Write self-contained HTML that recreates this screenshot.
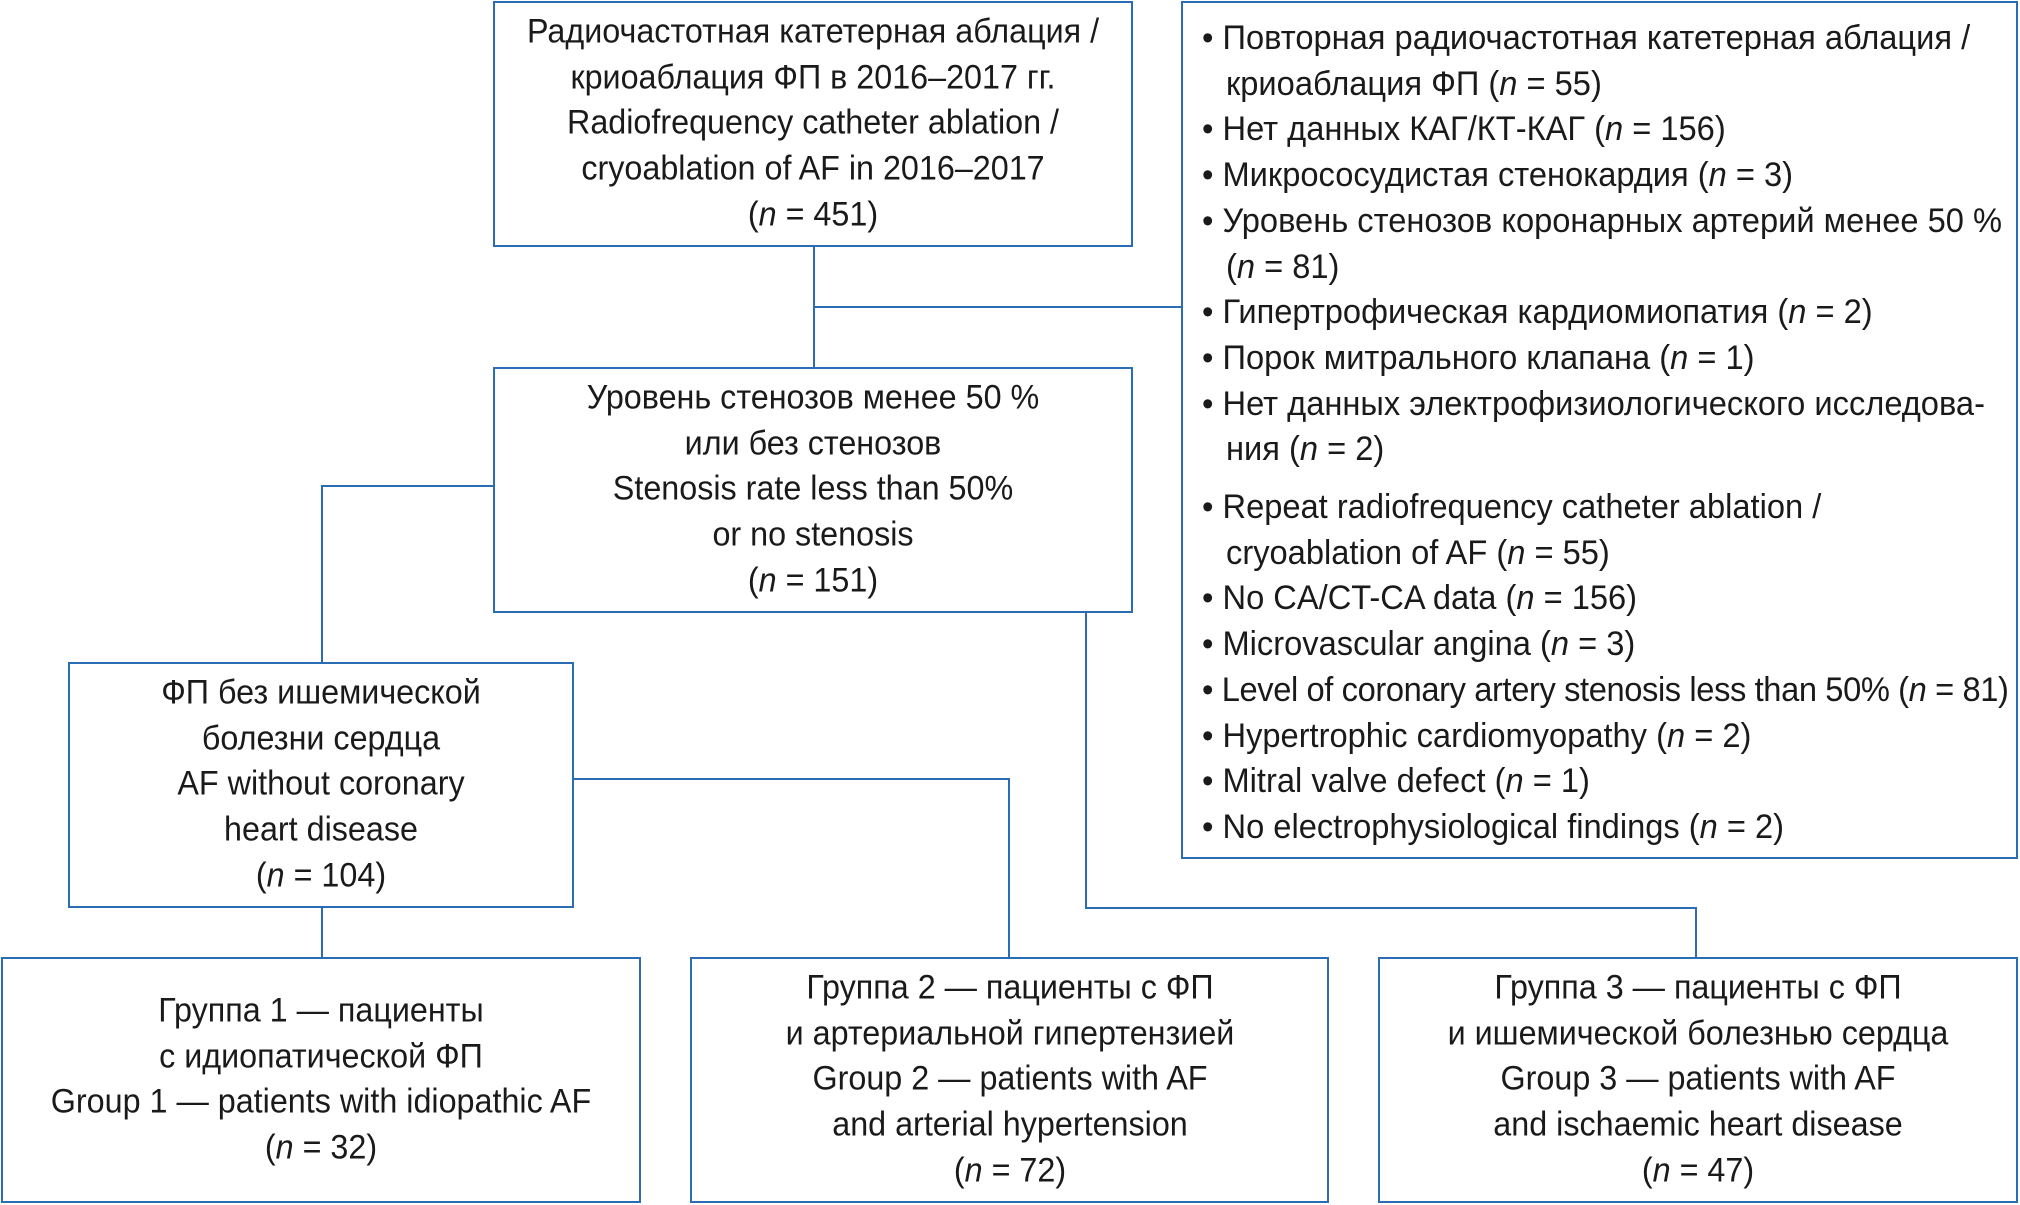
<!DOCTYPE html>
<html><head><meta charset="utf-8"><style>
body{margin:0;width:2020px;height:1205px;background:#fff;position:relative;overflow:hidden;font-family:"Liberation Sans",sans-serif;color:#1a1a1a}
.b{position:absolute;border:2px solid #2a6db5;box-sizing:border-box}
.t{position:absolute;left:50%;top:50%;transform:translate(-50%,-50%) scaleX(0.95);text-align:center;white-space:nowrap;font-size:34px;line-height:45.7px}
.l{position:absolute;background:#2a6db5}
.h{height:2px}.v{width:2px}
.r{position:absolute;left:1181px;top:1px;width:837px;height:858px;border:2px solid #2a6db5;box-sizing:border-box}
.rt{position:absolute;left:19px;top:13px;transform-origin:0 0;transform:scaleX(0.96);font-size:34px;line-height:45.7px;white-space:nowrap}
.rt div{padding-left:25px;text-indent:-25px}
</style></head><body>
<div class="l v" style="left:813px;top:246px;height:121px"></div>
<div class="l h" style="left:813px;top:306px;width:370px"></div>
<div class="l h" style="left:321px;top:485px;width:173px"></div>
<div class="l v" style="left:321px;top:485px;height:178px"></div>
<div class="l h" style="left:572px;top:778px;width:438px"></div>
<div class="l v" style="left:1008px;top:778px;height:180px"></div>
<div class="l v" style="left:321px;top:906px;height:52px"></div>
<div class="l v" style="left:1085px;top:611px;height:298px"></div>
<div class="l h" style="left:1085px;top:907px;width:612px"></div>
<div class="l v" style="left:1695px;top:907px;height:51px"></div>

<div class="b" style="left:493px;top:1px;width:640px;height:246px"><div class="t">Радиочастотная катетерная аблация /<br>криоаблация ФП в 2016–2017 гг.<br>Radiofrequency catheter ablation /<br>cryoablation of AF in 2016–2017<br>(<i>n</i> = 451)</div></div>
<div class="b" style="left:493px;top:367px;width:640px;height:246px"><div class="t">Уровень стенозов менее 50 %<br>или без стенозов<br>Stenosis rate less than 50%<br>or no stenosis<br>(<i>n</i> = 151)</div></div>
<div class="b" style="left:68px;top:662px;width:506px;height:246px"><div class="t">ФП без ишемической<br>болезни сердца<br>AF without coronary<br>heart disease<br>(<i>n</i> = 104)</div></div>
<div class="b" style="left:1px;top:957px;width:640px;height:246px"><div class="t">Группа 1 — пациенты<br>с идиопатической ФП<br>Group 1 — patients with idiopathic AF<br>(<i>n</i> = 32)</div></div>
<div class="b" style="left:690px;top:957px;width:639px;height:246px"><div class="t">Группа 2 — пациенты с ФП<br>и артериальной гипертензией<br>Group 2 — patients with AF<br>and arterial hypertension<br>(<i>n</i> = 72)</div></div>
<div class="b" style="left:1378px;top:957px;width:640px;height:246px"><div class="t">Группа 3 — пациенты с ФП<br>и ишемической болезнью сердца<br>Group 3 — patients with AF<br>and ischaemic heart disease<br>(<i>n</i> = 47)</div></div>

<div class="r"><div class="rt">
<div>• Повторная радиочастотная катетерная аблация /<br>криоаблация ФП (<i>n</i> = 55)</div>
<div>• Нет данных КАГ/КТ-КАГ (<i>n</i> = 156)</div>
<div>• Микрососудистая стенокардия (<i>n</i> = 3)</div>
<div>• Уровень стенозов коронарных артерий менее 50 %<br>(<i>n</i> = 81)</div>
<div>• Гипертрофическая кардиомиопатия (<i>n</i> = 2)</div>
<div>• Порок митрального клапана (<i>n</i> = 1)</div>
<div>• Нет данных электрофизиологического исследова-<br>ния (<i>n</i> = 2)</div>
<div style="margin-top:12px">• Repeat radiofrequency catheter ablation /<br>cryoablation of AF (<i>n</i> = 55)</div>
<div>• No CA/CT-CA data (<i>n</i> = 156)</div>
<div>• Microvascular angina (<i>n</i> = 3)</div>
<div style="letter-spacing:-0.4px">• Level of coronary artery stenosis less than 50% (<i>n</i> = 81)</div>
<div>• Hypertrophic cardiomyopathy (<i>n</i> = 2)</div>
<div>• Mitral valve defect (<i>n</i> = 1)</div>
<div>• No electrophysiological findings (<i>n</i> = 2)</div>
</div></div>
</body></html>
